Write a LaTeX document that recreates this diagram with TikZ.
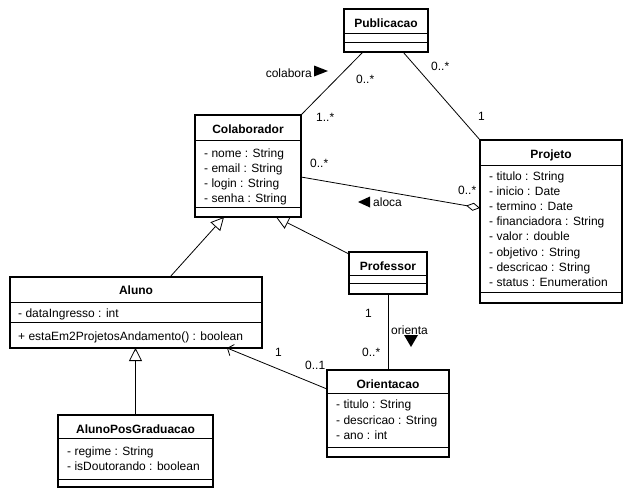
\documentclass[tikz,border=0pt]{standalone}
\usepackage{fontspec}
\setmainfont{Liberation Sans}
\usetikzlibrary{arrows.meta}

\newcommand{\compsep}[2]{\draw[conn] ([yshift=-#2pt]#1.north west) -- ([yshift=-#2pt]#1.north east);}

\begin{document}
\begin{tikzpicture}
[x=1pt, y=-1pt, font=\fontsize{12}{15}\selectfont,
classbox/.style={rectangle, draw, line width=1.6pt, anchor=north west, inner sep=0pt, outer sep=0pt},
classname/.style={font=\fontsize{12}{15}\selectfont\bfseries, anchor=base, inner sep=0pt},
attr/.style={anchor=base west, inner sep=0pt},
mult/.style={anchor=base west, inner sep=0pt},
conn/.style={line width=0.8pt},
gen/.style={conn, -{Triangle[open, length=13pt, width=13pt]}},
nav/.style={conn, -{Straight Barb[length=5pt, width=12pt]}},
aggr/.style={conn, -{Diamond[open, length=14pt, width=8pt]}},
]
\useasboundingbox (0,0) rectangle (632,498);

% classes
\node[classbox, minimum width=84pt, minimum height=43pt] (pub) at (344,9) {};
\node[classbox, minimum width=106pt, minimum height=102pt] (col) at (195,115) {};
\node[classbox, minimum width=142pt, minimum height=163pt] (proj) at (480,140) {};
\node[classbox, minimum width=252pt, minimum height=71pt] (aluno) at (10,277) {};
\node[classbox, minimum width=78pt, minimum height=42pt] (prof) at (349,252) {};
\node[classbox, minimum width=122pt, minimum height=87pt] (ori) at (327,370) {};
\node[classbox, minimum width=155pt, minimum height=72pt] (apg) at (58,415) {};

\compsep{pub}{24} \compsep{pub}{33}
\compsep{col}{25} \compsep{col}{92}
\compsep{proj}{25} \compsep{proj}{152}
\compsep{aluno}{25} \compsep{aluno}{45}
\compsep{prof}{23} \compsep{prof}{31}
\compsep{ori}{23} \compsep{ori}{77}
\compsep{apg}{23} \compsep{apg}{64}

\node[classname] (pubT) at (386,27) {Publicacao};
\node[classname] (colT) at (248,133) {Colaborador};
\node[classname] (projT) at (551,158) {Projeto};
\node[classname] (alunoT) at (136,294) {Aluno};
\node[classname] (profT) at (388,270.5) {Professor};
\node[classname] (oriT) at (388,388) {Orientacao};
\node[classname] (apgT) at (135.5,433) {AlunoPosGraduacao};

% attributes
\foreach \a [count=\i from 0] in {- nome : String, - email : String, - login : String, - senha : String}
  \node[attr] (colA\i) at (204,157+15*\i) {\a};
\foreach \a [count=\i from 0] in {- titulo : String, - inicio : Date, - termino : Date, - financiadora : String, - valor : double, - objetivo : String, - descricao : String, - status : Enumeration}
  \node[attr] (projA\i) at (489,180+15.2*\i) {\a};
\node[attr] (alunoA0) at (18,317) {- dataIngresso : int};
\node[attr] (alunoM0) at (18,340) {+ estaEm2ProjetosAndamento() : boolean};
\foreach \a [count=\i from 0] in {- titulo : String, - descricao : String, - ano : int}
  \node[attr] (oriA\i) at (336,408.5+15.7*\i) {\a};
\foreach \a [count=\i from 0] in {- regime : String, - isDoutorando : boolean}
  \node[attr] (apgA\i) at (67,455+15*\i) {\a};

% connectors
\draw[conn] (col.north east) -- ([xshift=-23pt]pub.south);
\draw[conn] ([xshift=17pt]pub.south) -- (proj.north west);
\draw[aggr] ([yshift=-11pt]col.east) -- ([yshift=13.5pt]proj.west);
\draw[gen] ([xshift=34pt]aluno.north) -- ([xshift=-24pt]col.south);
\draw[gen] ([yshift=-2pt]prof.north west) -- ([xshift=28pt]col.south);
\draw[conn] (prof.south) -- (ori.north);
\draw[nav] ([yshift=24.5pt]ori.west) -- ([xshift=91pt]aluno.south);
\draw[gen] (apg.north) -- (apg.north |- aluno.south);

% multiplicities
\node[mult] (m1) at (356,83) {0..*};
\node[mult] (m2) at (316,121.5) {1..*};
\node[mult] (m3) at (431,70) {0..*};
\node[mult] (m4) at (478,120.5) {1};
\node[mult] (m5) at (310,167) {0..*};
\node[mult] (m6) at (458,194) {0..*};
\node[mult] (m7) at (365,317.5) {1};
\node[mult] (m8) at (362,356) {0..*};
\node[mult] (m9) at (305,369.5) {0..1};
\node[mult] (m10) at (275,356) {1};

% association names
\node[mult, anchor=base east] (colabora) at (312,77) {colabora};
\fill (314,65.5) -- (328,71) -- (314,76.5) -- cycle;
\node[mult] (aloca) at (373,206.5) {aloca};
\fill (370,196.5) -- (358,202) -- (370,207.5) -- cycle;
\node[mult] (orienta) at (391,334) {orienta};
\fill (404,335) -- (418,335) -- (411,347) -- cycle;
\end{tikzpicture}
\end{document}
